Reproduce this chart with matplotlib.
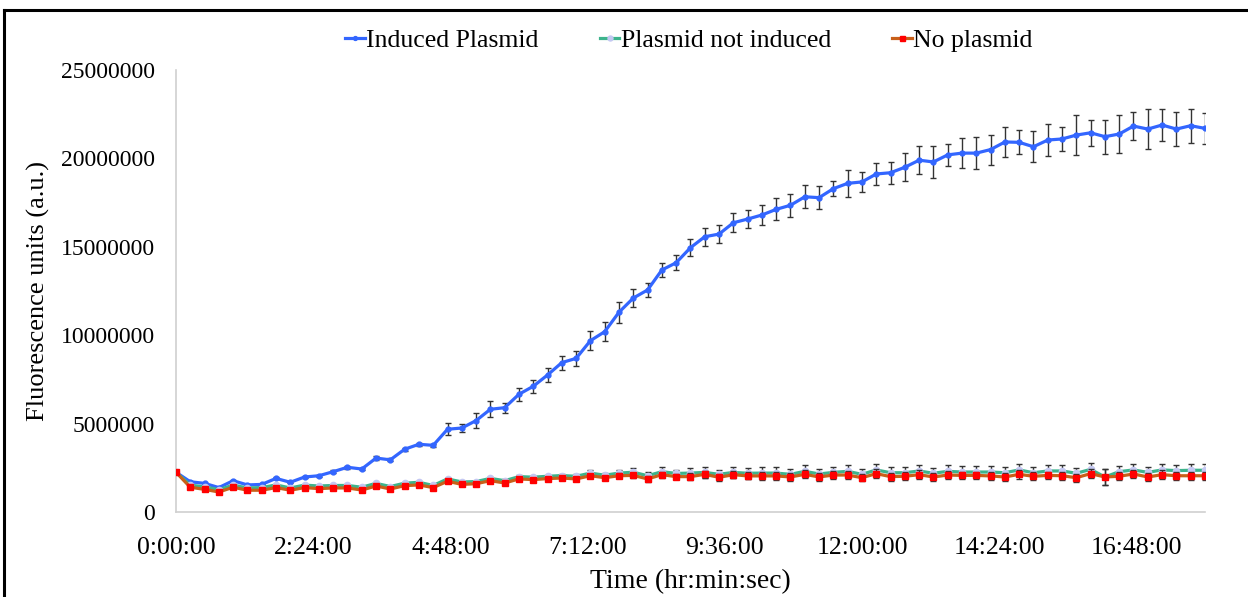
import numpy as np
import matplotlib
matplotlib.use("Agg")
from matplotlib import pyplot as plt
from matplotlib.ticker import FuncFormatter

# sampling every 15 min over 18 h
time_min = np.arange(0, 1081, 15)

induced = [2.25, 1.71, 1.62, 1.38, 1.77, 1.53, 1.56, 1.90, 1.68, 1.98,
           2.05, 2.28, 2.53, 2.43, 3.05, 2.95, 3.55, 3.83, 3.77, 4.68,
           4.75, 5.17, 5.81, 5.90, 6.66, 7.11, 7.75, 8.45, 8.69, 9.69,
           10.2, 11.3, 12.1, 12.56, 13.69, 14.1, 14.95, 15.57, 15.72, 16.36,
           16.57, 16.8, 17.12, 17.35, 17.83, 17.78, 18.29, 18.59, 18.67, 19.12,
           19.19, 19.5, 19.9, 19.8, 20.2, 20.3, 20.3, 20.5, 20.93, 20.91,
           20.66, 21.04, 21.1, 21.32, 21.45, 21.23, 21.38, 21.83, 21.66, 21.89,
           21.66, 21.85, 21.7]
induced_err = [0.04, 0.05, 0.04, 0.05, 0.05, 0.05, 0.05, 0.06, 0.05, 0.06,
               0.06, 0.07, 0.08, 0.08, 0.1, 0.08, 0.08, 0.1, 0.08, 0.34,
               0.2, 0.41, 0.45, 0.28, 0.38, 0.38, 0.41, 0.4, 0.42, 0.53,
               0.53, 0.6, 0.5, 0.4, 0.38, 0.42, 0.47, 0.5, 0.53, 0.53,
               0.53, 0.57, 0.63, 0.65, 0.64, 0.64, 0.43, 0.76, 0.57, 0.63,
               0.63, 0.78, 0.78, 0.92, 0.62, 0.87, 0.9, 0.85, 0.84, 0.68,
               0.87, 0.89, 0.69, 1.13, 0.73, 0.96, 1.09, 0.79, 1.13, 0.91,
               0.94, 0.96, 0.88]

not_induced = [2.25, 1.52, 1.42, 1.26, 1.52, 1.36, 1.38, 1.53, 1.36, 1.52,
               1.47, 1.50, 1.50, 1.40, 1.62, 1.44, 1.63, 1.68, 1.50, 1.87,
               1.70, 1.72, 1.90, 1.77, 2.00, 1.97, 2.02, 2.06, 2.02, 2.20,
               2.08, 2.20, 2.25, 2.05, 2.28, 2.18, 2.20, 2.24, 2.13, 2.24,
               2.19, 2.20, 2.20, 2.13, 2.30, 2.15, 2.24, 2.30, 2.13, 2.38,
               2.22, 2.22, 2.32, 2.19, 2.30, 2.26, 2.26, 2.26, 2.22, 2.38,
               2.22, 2.32, 2.32, 2.19, 2.41, 1.98, 2.28, 2.38, 2.24, 2.38,
               2.34, 2.36, 2.36]
not_induced_err = [0.02, 0.02, 0.02, 0.02, 0.02, 0.02, 0.02, 0.02, 0.02, 0.03,
                   0.03, 0.03, 0.03, 0.03, 0.04, 0.03, 0.04, 0.04, 0.04, 0.05,
                   0.05, 0.06, 0.06, 0.07, 0.08, 0.08, 0.1, 0.1, 0.12, 0.18,
                   0.15, 0.2, 0.22, 0.2, 0.26, 0.22, 0.28, 0.3, 0.26, 0.3,
                   0.3, 0.32, 0.32, 0.32, 0.34, 0.3, 0.32, 0.34, 0.3, 0.34,
                   0.32, 0.32, 0.34, 0.3, 0.34, 0.34, 0.34, 0.32, 0.3, 0.36,
                   0.32, 0.34, 0.34, 0.3, 0.34, 0.45, 0.32, 0.36, 0.32, 0.36,
                   0.34, 0.34, 0.34]

no_plasmid = [2.25, 1.40, 1.28, 1.13, 1.40, 1.23, 1.23, 1.38, 1.23, 1.38,
              1.32, 1.36, 1.36, 1.24, 1.47, 1.30, 1.49, 1.53, 1.38, 1.74,
              1.56, 1.60, 1.77, 1.64, 1.87, 1.83, 1.89, 1.92, 1.87, 2.05,
              1.94, 2.05, 2.07, 1.87, 2.11, 2.00, 2.00, 2.13, 1.96, 2.11,
              2.04, 2.04, 2.04, 1.98, 2.13, 1.98, 2.09, 2.09, 1.94, 2.17,
              2.00, 2.02, 2.11, 1.98, 2.09, 2.07, 2.07, 2.04, 1.98, 2.13,
              2.02, 2.07, 2.05, 1.94, 2.17, 1.98, 2.02, 2.15, 1.98, 2.11,
              2.05, 2.05, 2.05]
no_plasmid_err = [0.02, 0.02, 0.02, 0.02, 0.02, 0.02, 0.02, 0.02, 0.02, 0.02,
                  0.02, 0.02, 0.03, 0.03, 0.03, 0.03, 0.03, 0.03, 0.03, 0.04,
                  0.04, 0.04, 0.05, 0.05, 0.06, 0.06, 0.07, 0.08, 0.08, 0.12,
                  0.1, 0.14, 0.15, 0.15, 0.18, 0.16, 0.2, 0.2, 0.18, 0.2,
                  0.2, 0.22, 0.22, 0.22, 0.22, 0.22, 0.22, 0.22, 0.2, 0.24,
                  0.22, 0.22, 0.24, 0.22, 0.22, 0.22, 0.22, 0.22, 0.22, 0.24,
                  0.22, 0.22, 0.22, 0.22, 0.24, 0.45, 0.22, 0.24, 0.22, 0.24,
                  0.22, 0.22, 0.22]

labels = ["Induced Plasmid", "Plasmid not induced", "No plasmid"]

plt.rcParams['font.family'] = ['Liberation Serif', 'DejaVu Serif']

fig = plt.figure(figsize=(12.48, 5.97), dpi=100)
ax = fig.add_axes([0.141, 0.1424, 0.8245, 0.7403])

series = [
    (np.array(induced) * 1e6, np.array(induced_err) * 1e6, '#3366FF', 'o', '#3366FF', 3.5),
    (np.array(not_induced) * 1e6, np.array(not_induced_err) * 1e6, '#3DB48C', 'o', '#C4C8F2', 4.5),
    (np.array(no_plasmid) * 1e6, np.array(no_plasmid_err) * 1e6, '#C8601A', 's', '#FF0000', 4.5),
]

for k, ((y, err, lc, mk, mc, ms), lab) in enumerate(zip(series, labels)):
    # bars sit just under their own series
    ax.errorbar(time_min, y, yerr=err, fmt='none', ecolor='#333333',
                elinewidth=1.0, capsize=2.5, capthick=1.0, zorder=2 + 2 * k)
    ax.plot(time_min, y, color=lc, lw=2.3, marker=mk, markersize=ms,
            markerfacecolor=mc, markeredgecolor=mc, label=lab, zorder=3 + 2 * k)

ax.set_xlim(0, 1080)
ax.set_ylim(0, 25e6)
ax.set_xticks(np.arange(0, 1080, 144))
ax.set_yticks(np.arange(0, 25e6 + 1, 5e6))


def fmt_time(v, pos):
    total = int(round(v * 60))
    h = total // 3600
    m = (total % 3600) // 60
    s = total % 60
    return "%d:%02d:%02d" % (h, m, s)


ax.xaxis.set_major_formatter(FuncFormatter(fmt_time))
ax.yaxis.set_major_formatter(FuncFormatter(lambda v, p: "%d" % v))
ax.tick_params(axis='both', length=0, colors='black')
ax.tick_params(axis='x', pad=18, labelsize=18.5)
ax.tick_params(axis='y', pad=15, labelsize=17)

for side in ['top', 'right']:
    ax.spines[side].set_visible(False)
for side in ['left', 'bottom']:
    ax.spines[side].set_color('#D0D0D0')
    ax.spines[side].set_linewidth(1.2)

ax.set_xlabel("Time (hr:min:sec)", fontsize=20, labelpad=7)
ax.set_ylabel("Fluorescence units (a.u.)", fontsize=19, labelpad=8)

fig.legend(loc='upper center', bbox_to_anchor=(0.552, 0.99), ncol=3,
           frameon=False, fontsize=18.5, handlelength=0.75, handletextpad=0.05,
           columnspacing=2.4, markerscale=0.8)

# outer chart border
fig.add_artist(plt.Line2D([0.0035, 1.0], [1 - 10 / 597, 1 - 10 / 597],
                          color='black', lw=2.2, transform=fig.transFigure))
fig.add_artist(plt.Line2D([0.0035, 0.0035], [0.0, 1 - 10 / 597],
                          color='black', lw=2.2, transform=fig.transFigure))

fig.savefig("out.png", dpi=100)
